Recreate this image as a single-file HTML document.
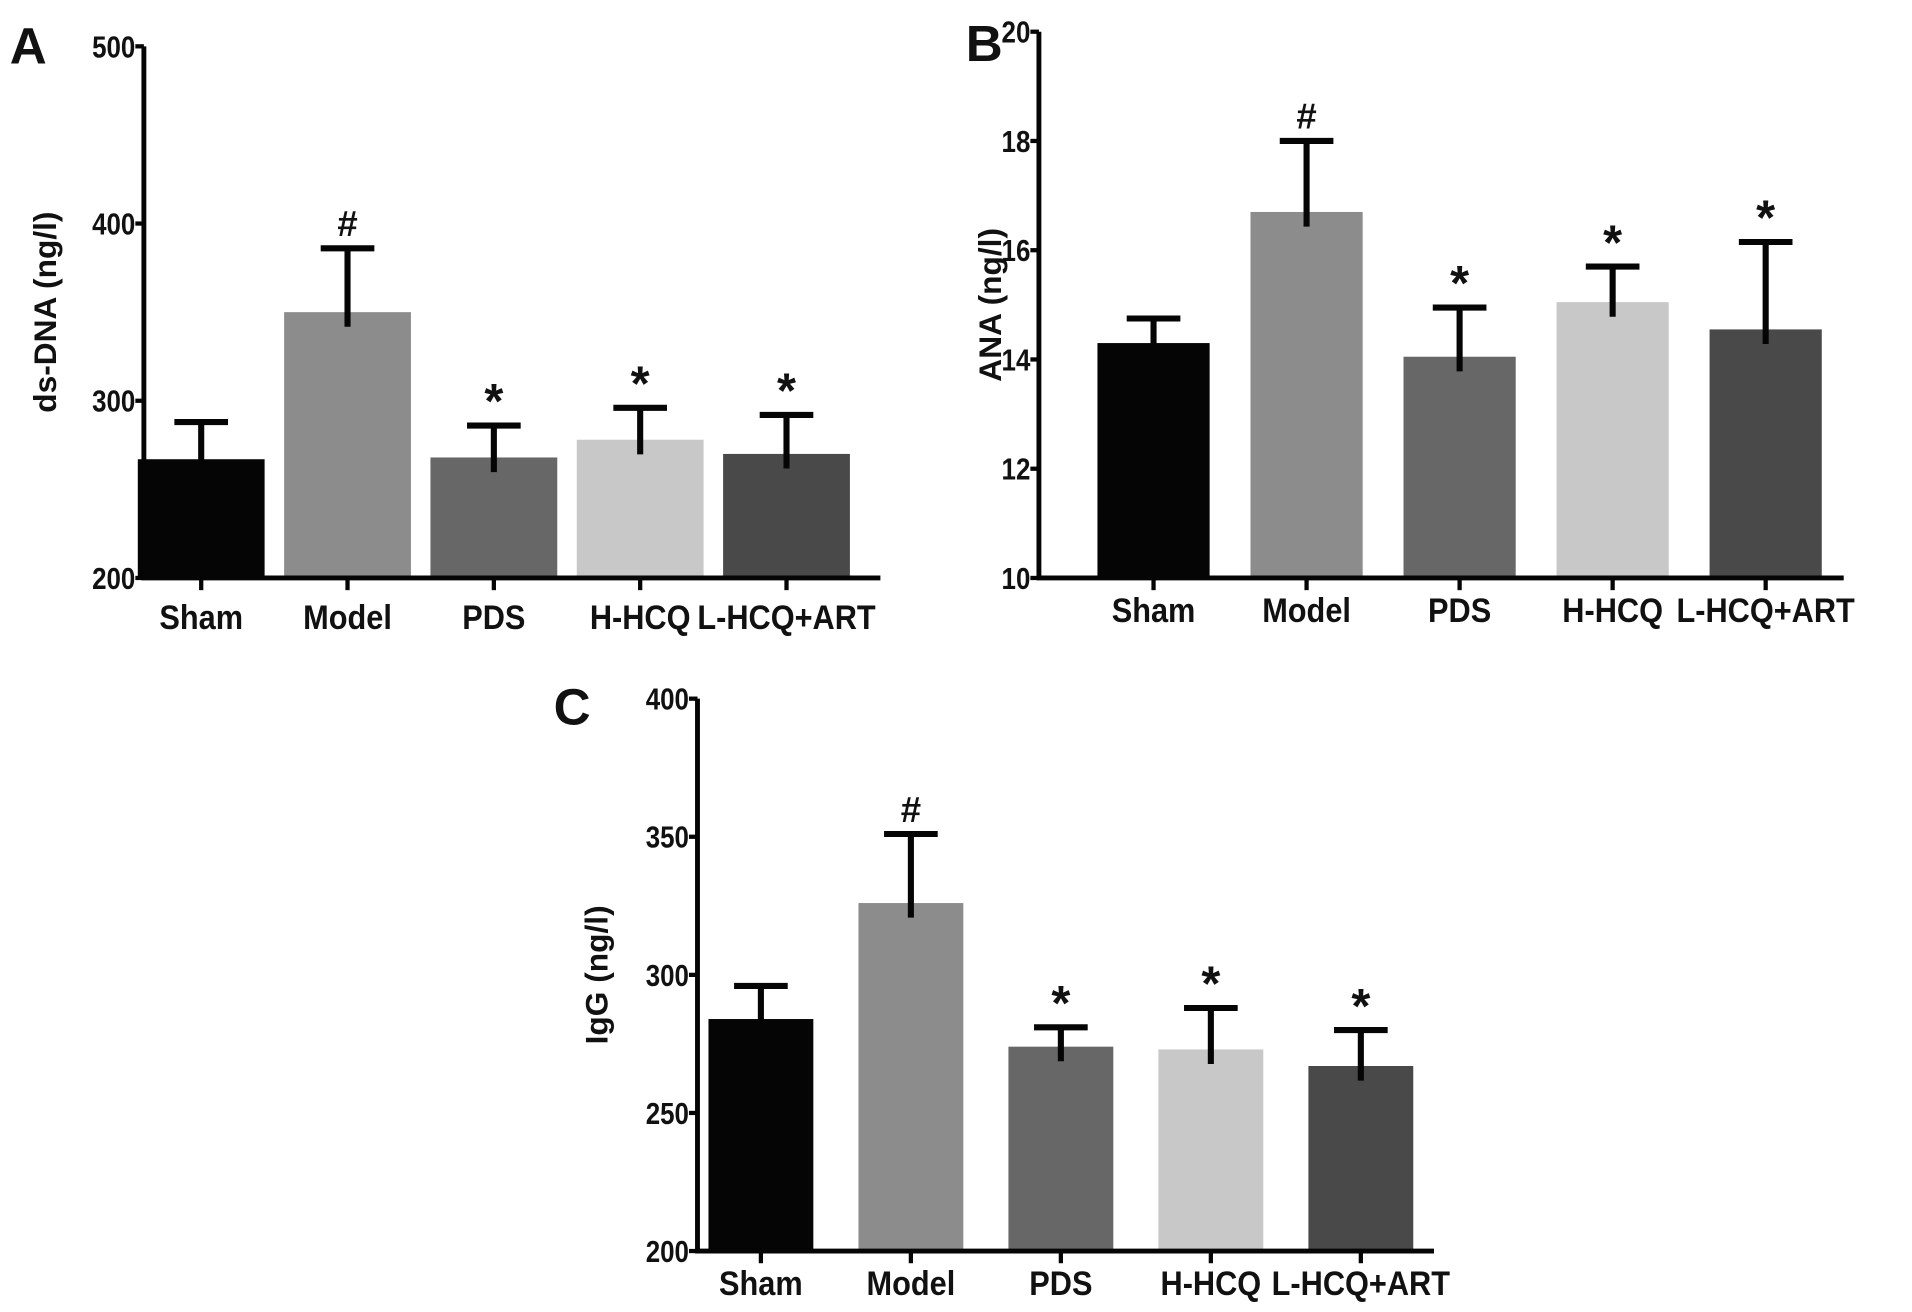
<!DOCTYPE html>
<html><head><meta charset="utf-8"><style>
html,body{margin:0;padding:0;background:#fff;}
svg{display:block;}
text{font-family:"Liberation Sans",Arial,sans-serif;font-weight:bold;fill:#111;}
</style></head><body>
<svg id="fig" width="1912" height="1312" viewBox="0 0 1568 1076" preserveAspectRatio="none" xmlns="http://www.w3.org/2000/svg"></svg>
<script>
const categories = ["Sham","Model","PDS","H-HCQ","L-HCQ+ART"];
const colors = ["#050505","#8c8c8c","#676767","#c8c8c8","#494949"];
const dsdnaValues = [267, 350, 268, 278, 270];
const dsdnaErrTop = [288, 386, 286, 296, 292];
const dsdnaMarks = ["", "#", "*", "*", "*"];
const dsdnaTicks = [200, 300, 400, 500];
const anaValues = [14.3, 16.7, 14.05, 15.05, 14.55];
const anaErrTop = [14.75, 18.0, 14.95, 15.7, 16.15];
const anaMarks = ["", "#", "*", "*", "*"];
const anaTicks = [10, 12, 14, 16, 18, 20];
const iggValues = [284, 326, 274, 273, 267];
const iggErrTop = [296, 351, 281, 288, 280];
const iggMarks = ["", "#", "*", "*", "*"];
const iggTicks = [200, 250, 300, 350, 400];

const NS = "http://www.w3.org/2000/svg";
const svg = document.getElementById("fig");
function mk(tag, attrs, parent){
  const e = document.createElementNS(NS, tag);
  for (const k in attrs) e.setAttribute(k, attrs[k]);
  (parent||svg).appendChild(e);
  return e;
}

function panel(cfg){
  const g = mk("g", {});
  
  
  const ymin = cfg.ticks[0], ymax = cfg.ticks[cfg.ticks.length-1];
  const y = v => cfg.bottom - (v - ymin) / (ymax - ymin) * (cfg.bottom - cfg.top);
  const xc = i => cfg.x0 + cfg.first + cfg.step * i;
  categories.forEach((c, i) => {
    const r = mk("rect", {x: xc(i) - cfg.bw/2, y: y(cfg.values[i]), width: cfg.bw, height: cfg.bottom - y(cfg.values[i]), fill: colors[i]}, g);
    
    
    const eb = mk("path", {d: `M${xc(i)} ${y(cfg.values[i])+12} V${y(cfg.err[i])} M${xc(i)-22} ${y(cfg.err[i])} H${xc(i)+22}`, stroke: "#050505", "stroke-width": 5, fill: "none"}, g);
    
    
    if (cfg.marks[i]) {
      const isHash = cfg.marks[i]==="#";
      const t = mk("text", {x: xc(i), y: y(cfg.err[i]) - (isHash?10:6), "text-anchor": "middle", "font-size": isHash?30:40, "font-weight": isHash?"normal":"bold"}, g);
      t.textContent = cfg.marks[i];
      
      
    }
    const tk = mk("line", {x1: xc(i), x2: xc(i), y1: cfg.bottom, y2: cfg.bottom + 10, stroke: "#050505", "stroke-width": 3.5}, g);
    
    
    const lb = mk("text", {x: xc(i), y: cfg.bottom + cfg.labDy, "text-anchor": "middle", "font-size": 28, transform: `translate(${xc(i)},0) scale(0.9,1) translate(${-xc(i)},0)`}, g);
    lb.textContent = c;
    
    
  });
  const ax = mk("path", {d: `M${cfg.x0} ${cfg.top} V${cfg.bottom} H${cfg.xEnd}`, stroke: "#050505", "stroke-width": 4, fill: "none"}, g);
  
  
  cfg.ticks.forEach(v => {
    const l = mk("line", {x1: cfg.x0 - 7, x2: cfg.x0, y1: y(v), y2: y(v), stroke: "#050505", "stroke-width": 3.5}, g);
    
    
    const t = mk("text", {x: cfg.x0 - 7, y: y(v) + 9, "text-anchor": "end", "font-size": 25, transform: `translate(${cfg.x0-7},0) scale(0.85,1) translate(${-(cfg.x0-7)},0)`}, g);
    t.textContent = v;
    
    
  });
  const ty = (cfg.top + cfg.bottom) / 2;
  const yt = mk("text", {x: cfg.titleX, y: ty, "text-anchor": "middle", "font-size": 26, transform: `rotate(-90 ${cfg.titleX} ${ty})`}, g);
  yt.textContent = cfg.title;
  
  
  const pl = mk("text", {x: cfg.letterX, y: cfg.letterY, "font-size": 42}, g);
  pl.textContent = cfg.letter;
  
  
}

panel({name:"panel-a-dsdna", letter:"A", letterX:8, letterY:52, x0:118, xEnd:722, top:38, bottom:474, bw:104, first:47, step:120, labDy:42,
  ticks:dsdnaTicks, values:dsdnaValues, err:dsdnaErrTop, marks:dsdnaMarks, title:"ds-DNA (ng/l)", titleX:46});
panel({name:"panel-b-ana", letter:"B", letterX:792, letterY:50, x0:852, xEnd:1512, top:26, bottom:474, bw:92, first:94, step:125.5, labDy:36,
  ticks:anaTicks, values:anaValues, err:anaErrTop, marks:anaMarks, title:"ANA (ng/l)", titleX:821});
panel({name:"panel-c-igg", letter:"C", letterX:454, letterY:594, x0:572, xEnd:1176, top:573, bottom:1026, bw:86, first:52, step:123, labDy:36,
  ticks:iggTicks, values:iggValues, err:iggErrTop, marks:iggMarks, title:"IgG (ng/l)", titleX:498});
</script>
</body></html>
